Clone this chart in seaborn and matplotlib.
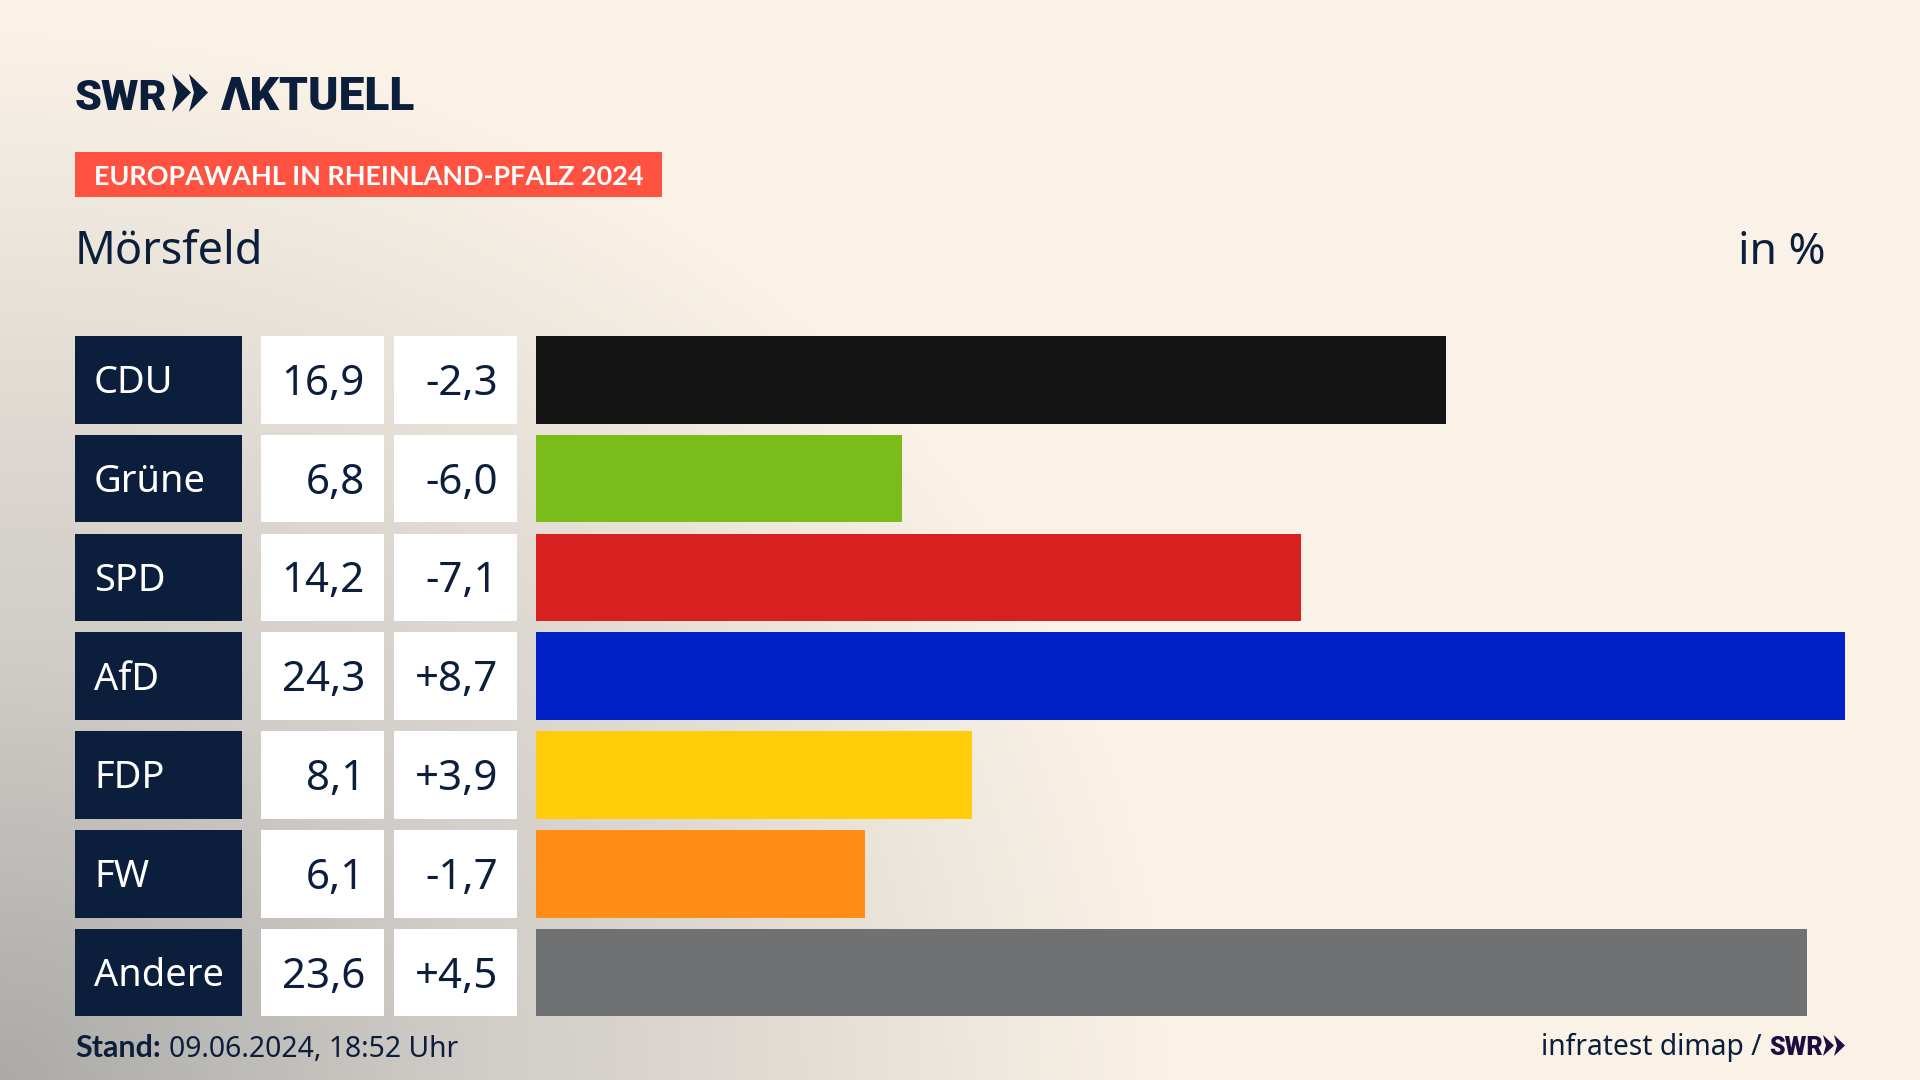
import numpy as np
import pandas as pd
import matplotlib.pyplot as plt
import seaborn as sns
from matplotlib.colors import LinearSegmentedColormap
from matplotlib.patches import Polygon, Rectangle

parties = ["CDU", "Grüne", "SPD", "AfD", "FDP", "FW", "Andere"]
shares = [16.9, 6.8, 14.2, 24.3, 8.1, 6.1, 23.6]
share_labels = ["16,9", "6,8", "14,2", "24,3", "8,1", "6,1", "23,6"]
change_labels = ["-2,3", "-6,0", "-7,1", "+8,7", "+3,9", "-1,7", "+4,5"]
party_colors = ["#141414", "#7abd1a", "#d7201f", "#0022c8", "#ffcd09", "#ff8d16", "#707173"]

navy = "#0b1f3d"
W, H = 1920, 1080


def pt(px):
    return px * 72 / 100


sns.set_theme(style="white")
plt.rcParams["font.family"] = ["Noto Sans", "DejaVu Sans"]

fig = plt.figure(figsize=(W / 100, H / 100), dpi=100)

# background, gray corner bottom left
bg = fig.add_axes([0, 0, 1, 1])
yy, xx = np.mgrid[0:H, 0:W]
d = np.sqrt((xx / 1170) ** 2 + ((H - yy) / 1050) ** 2)
cmap = LinearSegmentedColormap.from_list(
    "bg", [(0, "#abaaa8"), (0.4, "#d0ccc7"), (0.6, "#dcd7d0"), (0.8, "#ece5db"), (1, "#faf2e7")]
)
bg.imshow(np.clip(d, 0, 1), cmap=cmap, vmin=0, vmax=1, aspect="auto", extent=(0, W, H, 0))
bg.set_xlim(0, W)
bg.set_ylim(H, 0)
bg.axis("off")

row_top = 336
row_h = 87.5
pitch = 98.8

# row boxes and their texts
for i, party in enumerate(parties):
    y = row_top + i * pitch
    mid = y + row_h / 2
    bg.add_patch(Rectangle((75, y), 167, row_h, color=navy, lw=0))
    bg.add_patch(Rectangle((261, y), 123, row_h, color="white", lw=0))
    bg.add_patch(Rectangle((394, y), 123, row_h, color="white", lw=0))
    bg.text(94, mid + 13.5, party, color="white", fontsize=pt(38), va="baseline")
    bg.text(365, mid + 15, share_labels[i], color=navy, fontsize=pt(42), ha="right", va="baseline")
    bg.text(498, mid + 15, change_labels[i], color=navy, fontsize=pt(42), ha="right", va="baseline")

# bars
df = pd.DataFrame({"party": parties, "share": shares})
left, right = 536, 1845
top = row_top - (pitch - row_h) / 2
bottom = top + pitch * len(parties)
ax = fig.add_axes([left / W, 1 - bottom / H, (right - left) / W, (bottom - top) / H])
ax.patch.set_alpha(0)
sns.barplot(data=df, y="party", x="share", hue="party", palette=party_colors,
            width=row_h / pitch, saturation=1, linewidth=0, legend=False, ax=ax)
ax.set_xlim(0, 24.3)
ax.set_ylim(len(parties) - 0.5, -0.5)
ax.axis("off")

# header
bg.text(75, 110, "SWR", color=navy, fontsize=pt(43), fontweight="black", family="Roboto", va="baseline")
bg.text(221, 110, "ΛKTUELL", color=navy, fontsize=pt(46), fontweight="black", family="Roboto", va="baseline")
for x0 in (172, 189):
    bg.add_patch(Polygon([(x0, 74), (x0 + 19, 92.5), (x0, 112), (x0 + 5, 92.5)], color=navy, lw=0))

bg.add_patch(Rectangle((75, 152), 587, 45, color="#ff5240", lw=0))
bg.text(94, 185, "EUROPAWAHL IN RHEINLAND-PFALZ 2024", color="white", fontsize=pt(27),
        fontweight="bold", family="Lato", va="baseline")
bg.text(75, 264, "Mörsfeld", color=navy, fontsize=pt(45), va="baseline")
bg.text(1826, 264, "in %", color=navy, fontsize=pt(44.5), ha="right", va="baseline")

# footer
bg.text(75, 1057, "Stand:", color=navy, fontsize=pt(30.5), fontweight="bold", family="Lato", va="baseline")
bg.text(169, 1057, "09.06.2024, 18:52 Uhr", color=navy, fontsize=pt(28.3), va="baseline")
bg.text(1762, 1055, "infratest dimap /", color=navy, fontsize=pt(28.2), ha="right", va="baseline")
bg.text(1769, 1055, "SWR", color="#1b0f3f", fontsize=pt(25), fontweight="black", family="Roboto", va="baseline")
for x0 in (1823, 1834):
    bg.add_patch(Polygon([(x0, 1035), (x0 + 11, 1045.5), (x0, 1056), (x0 + 3, 1045.5)], color="#1b0f3f", lw=0))

fig.savefig("out.png", dpi=100)
